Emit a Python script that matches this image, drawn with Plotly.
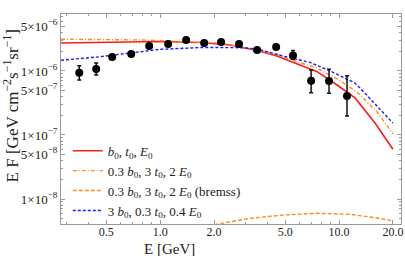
import plotly.graph_objects as go
import numpy as np

# data points
pt_E = [0.353, 0.439, 0.539, 0.689, 0.868, 1.108, 1.397, 1.762, 2.19, 2.76, 3.48, 4.45, 5.53, 6.98, 8.79, 11.08]
pt_F = [9.4e-7, 1.07e-6, 1.65e-6, 1.84e-6, 2.46e-6, 2.64e-6, 3.05e-6, 2.74e-6, 2.84e-6, 2.64e-6, 2.13e-6, 2.37e-6, 1.74e-6, 7.05e-7, 6.98e-7, 4.07e-7]
pt_hi = [1.21e-6, 1.33e-6, 1.80e-6, 1.98e-6, 2.62e-6, 2.80e-6, 3.22e-6, 2.90e-6, 3.00e-6, 2.80e-6, 2.28e-6, 2.53e-6, 2.08e-6, 1.04e-6, 1.06e-6, 8.45e-7]
pt_lo = [7.2e-7, 8.66e-7, 1.51e-6, 1.70e-6, 2.31e-6, 2.49e-6, 2.89e-6, 2.59e-6, 2.69e-6, 2.49e-6, 1.99e-6, 2.22e-6, 1.52e-6, 4.58e-7, 4.49e-7, 1.98e-7]

# model curves
red_E = [0.279, 0.462, 1.0, 1.673, 2.46, 2.80, 3.48, 4.50, 5.82, 7.54, 9.75, 12.28, 15.89, 20.0]
red_F = [2.74e-6, 2.79e-6, 2.89e-6, 2.79e-6, 2.55e-6, 2.37e-6, 2.09e-6, 1.71e-6, 1.29e-6, 9.75e-7, 6.04e-7, 3.79e-7, 1.54e-7, 6.0e-8]

org_E = [0.279, 0.462, 0.804, 1.245, 2.16, 3.48, 4.50, 5.82, 7.54, 9.75, 12.6, 16.3, 20.0]
org_F = [3.13e-6, 3.10e-6, 3.05e-6, 2.89e-6, 2.74e-6, 2.13e-6, 1.78e-6, 1.40e-6, 1.11e-6, 7.50e-7, 4.70e-7, 2.29e-7, 1.04e-7]

brem_E = [1.6, 2.11, 3.18, 4.87, 7.54, 11.5, 16.9, 20.0]
brem_F = [3.55e-9, 4.07e-9, 4.99e-9, 5.62e-9, 5.98e-9, 5.77e-9, 4.99e-9, 4.53e-9]

blue_E = [0.279, 0.462, 1.0, 1.74, 2.80, 3.48, 4.87, 6.88, 8.91, 12.28, 13.1, 20.0]
blue_F = [1.47e-6, 1.67e-6, 2.18e-6, 2.33e-6, 2.31e-6, 2.21e-6, 1.71e-6, 1.36e-6, 1.0e-6, 6.49e-7, 5.42e-7, 1.54e-7]

x_ticks = [0.5, 1.0, 2.0, 5.0, 10.0, 20.0]
x_ticktext = ["0.5", "1.0", "2.0", "5.0", "10.0", "20.0"]
y_ticks = [1e-8, 5e-8, 1e-7, 5e-7, 1e-6, 5e-6]
y_ticktext = ["1×10<sup>−8</sup>", "5×10<sup>−8</sup>", "1×10<sup>−7</sup>",
              "5×10<sup>−7</sup>", "1×10<sup>−6</sup>", "5×10<sup>−6</sup>"]

x_title = "E [GeV]"
y_title = "E F [GeV cm<sup>−2</sup>s<sup>−1</sup>sr<sup>−1</sup>]"

names = ["<i>b</i><sub>0</sub>, <i>t</i><sub>0</sub>, <i>E</i><sub>0</sub>",
         "0.3 <i>b</i><sub>0</sub>, 3 <i>t</i><sub>0</sub>, 2 <i>E</i><sub>0</sub>",
         "0.3 <i>b</i><sub>0</sub>, 3 <i>t</i><sub>0</sub>, 2 <i>E</i><sub>0</sub> (bremss)",
         "3 <i>b</i><sub>0</sub>, 0.3 <i>t</i><sub>0</sub>, 0.4 <i>E</i><sub>0</sub>"]

RED = "#f41f1f"
ORANGE = "#ff8c1a"
BLUE = "#1a1aff"
FONT = "Liberation Serif"

fig = go.Figure()
fig.add_trace(go.Scatter(x=red_E, y=red_F, mode="lines", name=names[0],
                         line=dict(color=RED, width=1.6)))
fig.add_trace(go.Scatter(x=org_E, y=org_F, mode="lines", name=names[1],
                         line=dict(color=ORANGE, width=1.4, dash="4px,2px,1px,2px")))
fig.add_trace(go.Scatter(x=brem_E, y=brem_F, mode="lines", name=names[2],
                         line=dict(color=ORANGE, width=1.4, dash="4px,2px")))
fig.add_trace(go.Scatter(x=blue_E, y=blue_F, mode="lines", name=names[3],
                         line=dict(color=BLUE, width=1.4, dash="3px,2px")))

err_plus = [h - f for h, f in zip(pt_hi, pt_F)]
err_minus = [f - l for f, l in zip(pt_F, pt_lo)]
fig.add_trace(go.Scatter(x=pt_E, y=pt_F, mode="markers", showlegend=False,
                         marker=dict(color="black", size=8),
                         error_y=dict(type="data", array=err_plus, arrayminus=err_minus,
                                      color="#111", thickness=1.5, width=2)))

minor_x = [0.3, 0.4, 0.6, 0.7, 0.8, 0.9, 3, 4, 6, 7, 8, 9]
minor_y = [m * 10.0 ** e for e in range(-9, -4) for m in range(2, 10) if not (m == 5 and e in (-8, -7, -6))]

axis_common = dict(type="log", showgrid=False, zeroline=False, showline=True,
                   linecolor="#9a9a9a", linewidth=1, mirror="allticks", automargin=False,
                   ticks="inside", ticklen=4, tickcolor="#9a9a9a", tickwidth=1)

fig.update_xaxes(**axis_common, range=[np.log10(0.279), np.log10(22.2)],
                 tickmode="array", tickvals=x_ticks, ticktext=x_ticktext,
                 tickfont=dict(family=FONT, size=12, color="#222"), ticklabelstandoff=-3,
                 minor=dict(tickvals=minor_x, ticklen=2, tickcolor="#9a9a9a", ticks="inside"))
fig.update_yaxes(**axis_common, range=[np.log10(4.07e-9), np.log10(7.76e-6)],
                 tickmode="array", tickvals=y_ticks, ticktext=y_ticktext,
                 tickfont=dict(family=FONT, size=13, color="#222"),
                 minor=dict(tickvals=minor_y, ticklen=2, tickcolor="#9a9a9a", ticks="inside"))

fig.add_annotation(text=x_title, xref="paper", yref="paper", x=0.32, y=0,
                   yshift=-25, xanchor="center", yanchor="middle", showarrow=False,
                   font=dict(family=FONT, size=15, color="#222"))
fig.add_annotation(text=y_title, xref="paper", yref="paper", x=0, y=0.56,
                   xshift=-50, xanchor="center", yanchor="middle", textangle=-90, showarrow=False,
                   font=dict(family=FONT, size=17, color="#222"))

fig.update_layout(width=405, height=256,
                  margin=dict(l=61, r=4, t=14, b=32),
                  paper_bgcolor="white", plot_bgcolor="white",
                  showlegend=True,
                  legend=dict(x=0.02, y=0.42, xanchor="left", yanchor="top",
                              bgcolor="rgba(0,0,0,0)", font=dict(family=FONT, size=13, color="#222"),
                              itemwidth=30, tracegroupgap=0))

fig.write_html("out.html", post_script="document.body.style.margin='0';",
               config={"displayModeBar": False})
